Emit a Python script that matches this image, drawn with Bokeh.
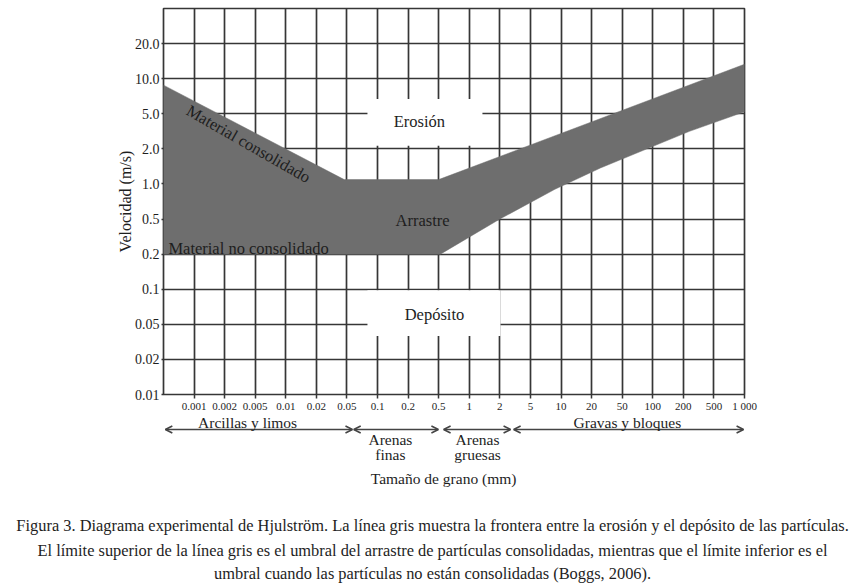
import numpy as np
from bokeh.plotting import figure
from bokeh.layouts import column
from bokeh.models import Range1d, FixedTicker, Label, Arrow, OpenHead
from bokeh.embed import file_html
from bokeh.resources import INLINE

# ---- data -------------------------------------------------------------
grain_ticks = [0.0005, 0.001, 0.002, 0.005, 0.01, 0.02, 0.05, 0.1, 0.2, 0.5,
               1, 2, 5, 10, 20, 50, 100, 200, 500, 1000]
grain_labels = ["", "0.001", "0.002", "0.005", "0.01", "0.02", "0.05", "0.1",
                "0.2", "0.5", "1", "2", "5", "10", "20", "50", "100", "200",
                "500", "1 000"]
vel_ticks = [0.01, 0.02, 0.05, 0.1, 0.2, 0.5, 1, 2, 5, 10, 20, 50]
vel_labels = ["0.01", "0.02", "0.05", "0.1", "0.2", "0.5", "1.0", "2.0",
              "5.0", "10.0", "20.0", ""]

# upper limit of the grey band (consolidated material), mm / m/s
upper_grain = [0.0005, 0.046, 0.5, 1000]
upper_vel = [8.8, 1.09, 1.09, 13.3]
# lower limit of the grey band (unconsolidated material)
lower_grain = [0.0005, 0.52, 2, 8.7, 26, 240, 1000]
lower_vel = [0.2, 0.2, 0.5, 0.9, 1.37, 3.16, 5.2]

classes = ["Arcillas y limos", "Arenas finas", "Arenas gruesas", "Gravas y bloques"]

caption = [
    "Figura 3. Diagrama experimental de Hjulström. La línea gris muestra la frontera entre la erosión y el depósito de las partículas.",
    "El límite superior de la línea gris es el umbral del arrastre de partículas consolidadas, mientras que el límite inferior es el",
    "umbral cuando las partículas no están consolidadas (Boggs, 2006).",
]

# ---- scale helpers (tick-index scale of the diagram) ---------------------
gi = np.arange(len(grain_ticks))
vi = np.arange(len(vel_ticks))


def gpos(v):
    return np.interp(np.log10(v), np.log10(grain_ticks), gi)


def vpos(v):
    return np.interp(np.log10(v), np.log10(vel_ticks), vi)


FONT = "Liberation Serif"
INK = "#1e1e1e"
GRID = "#363636"
W = 854
LEFT, RIGHT = 163, 110
FRAME_W = W - LEFT - RIGHT
PX_PER_IDX = FRAME_W / (len(grain_ticks) - 1)
TOP_H = 414

p = figure(width=W, height=TOP_H, output_backend="svg", toolbar_location=None,
           x_range=Range1d(0, len(grain_ticks) - 1),
           y_range=Range1d(0, len(vel_ticks) - 1),
           min_border_left=LEFT, min_border_right=RIGHT,
           min_border_top=8, min_border_bottom=TOP_H - 8 - 388)
p.frame_align = False
p.background_fill_color = "white"
p.border_fill_color = "white"
p.outline_line_color = GRID
p.outline_line_width = 1.7

# axes
p.xaxis.ticker = FixedTicker(ticks=list(gi[1:]))
p.xaxis.major_label_overrides = {int(i): grain_labels[i] for i in gi}
p.yaxis.ticker = FixedTicker(ticks=list(vi[:-1]))
p.yaxis.major_label_overrides = {int(i): vel_labels[i] for i in vi}
for ax in (p.xaxis, p.yaxis):
    ax.axis_line_color = None
    ax.minor_tick_line_color = None
    ax.major_tick_line_color = GRID
    ax.major_tick_line_width = 1.5
    ax.major_tick_in = 0
    ax.major_label_text_font = FONT
    ax.major_label_text_color = INK
p.xaxis.major_tick_out = 4
p.xaxis.major_label_standoff = 1
p.xaxis.major_label_text_font_size = "11px"
p.yaxis.major_tick_out = 2
p.yaxis.major_label_standoff = 2
p.yaxis.major_label_text_font_size = "14px"
p.yaxis.axis_label = "Velocidad (m/s)"
p.yaxis.axis_label_text_font = FONT
p.yaxis.axis_label_text_font_style = "normal"
p.yaxis.axis_label_text_font_size = "16px"
p.yaxis.axis_label_text_color = INK
p.yaxis.axis_label_standoff = -2

p.grid.grid_line_color = GRID
p.grid.grid_line_width = 1.7

# grey band
band_x = np.concatenate([gpos(upper_grain), gpos(lower_grain)[::-1]])
band_y = np.concatenate([vpos(upper_vel), vpos(lower_vel)[::-1]])
p.patch(band_x, band_y, fill_color="#6e6e6e", line_color="#6e6e6e", line_width=0.5)

# white areas behind the region names
p.quad(left=[6.67, 6.67], right=[10.43, 11.02], bottom=[7.09, 1.67], top=[8.42, 2.97],
       fill_color="white", line_color=None)


def lab(fig, x, y, text, size="16.5px", align="center", baseline="middle", angle=0.0):
    fig.add_layout(Label(x=x, y=y, text=text, text_font=FONT, text_font_size=size,
                         text_color=INK, text_align=align, text_baseline=baseline,
                         angle=angle))


lab(p, 8.37, 7.77, "Erosión")
lab(p, 8.47, 4.96, "Arrastre")
lab(p, 8.86, 2.27, "Depósito")
lab(p, 2.78, 7.14, "Material consolidado", angle=-0.52)
lab(p, 0.16, 4.17, "Material no consolidado", align="left")

# ---- lower panel: grain-size classes, axis title and caption --------------
H2 = 587 - TOP_H
q = figure(width=W, height=H2, output_backend="svg", toolbar_location=None,
           x_range=Range1d(-LEFT / PX_PER_IDX, len(grain_ticks) - 1 + RIGHT / PX_PER_IDX),
           y_range=Range1d(587, TOP_H),   # page rows, growing downwards
           x_axis_location=None, y_axis_location=None,
           min_border=0, min_border_left=0, min_border_right=0,
           min_border_top=0, min_border_bottom=0)
q.frame_align = False
q.grid.visible = False
q.outline_line_color = None
q.background_fill_color = "white"
q.border_fill_color = "white"

arrow_span = [(0.06, 6.18), (6.22, 8.99), (9.16, 11.35), (11.45, 18.97)]
for a, b in arrow_span:
    q.add_layout(Arrow(x_start=a, x_end=b, y_start=429, y_end=429,
                       line_color="#444444", line_width=1.6,
                       start=OpenHead(size=7, line_color="#444444", line_width=1.6),
                       end=OpenHead(size=7, line_color="#444444", line_width=1.6)))
CS = "15.5px"
lab(q, 2.75, 421.5, classes[0], size=CS)
lab(q, 7.42, 439, classes[1].split()[0], size=CS)
lab(q, 7.42, 454, classes[1].split()[1], size=CS)
lab(q, 10.27, 439, classes[2].split()[0], size=CS)
lab(q, 10.27, 454, classes[2].split()[1], size=CS)
lab(q, 15.17, 421.5, classes[3], size=CS)
lab(q, 9.16, 478, "Tamaño de grano (mm)", size=CS)

for line, yy in zip(caption, [525, 550, 573]):
    lab(q, 8.80, yy, line, size="16.4px")

open("out.html", "w").write(file_html(column(p, q, spacing=0), INLINE))
